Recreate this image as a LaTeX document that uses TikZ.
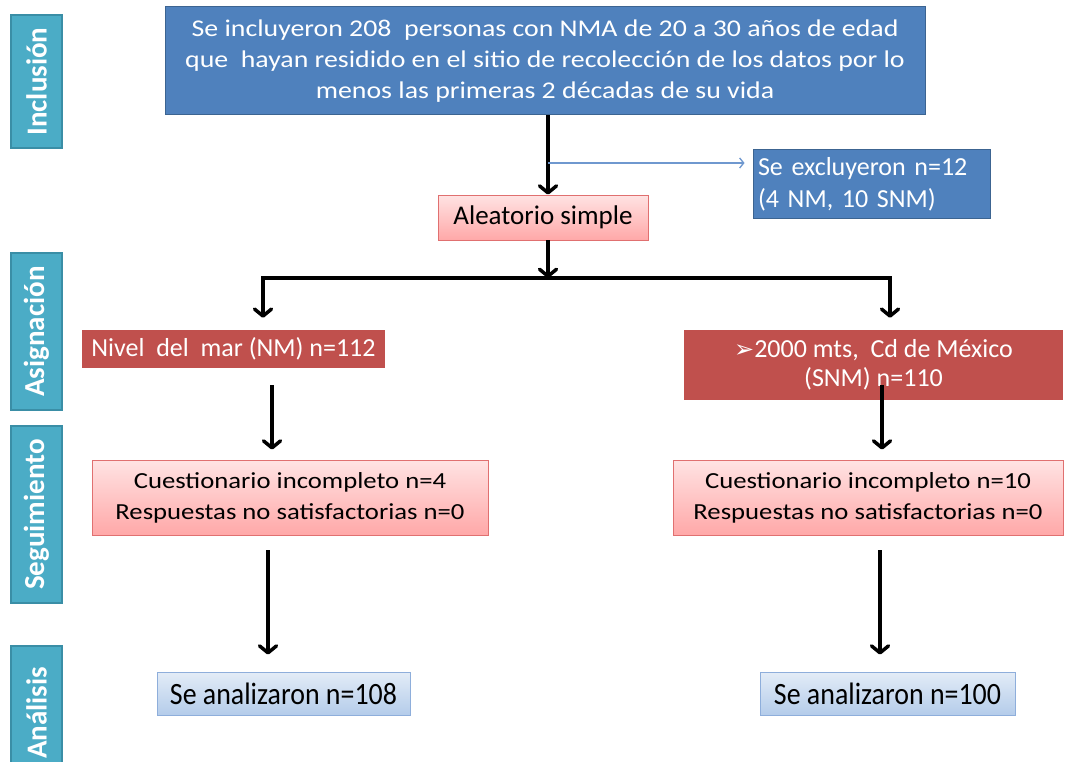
\documentclass[tikz,border=0pt]{standalone}
\usepackage{fontspec}
\setmainfont{Carlito}
\newfontfamily\wide[FakeStretch=1.16]{Carlito}
\newfontfamily\narrow[FakeStretch=0.9]{Carlito}
\newfontfamily\dejavu{DejaVu Sans}
\usetikzlibrary{arrows.meta,calc}
\definecolor{side}{HTML}{4BACC6}
\definecolor{sideb}{HTML}{3A8EA6}
\definecolor{topblue}{HTML}{4F81BD}
\definecolor{topblueb}{HTML}{3C6491}
\definecolor{darkred}{HTML}{C0504D}
\definecolor{pinktop}{HTML}{FFE3E3}
\definecolor{pinkbot}{HTML}{FFA8A8}
\definecolor{pinkb}{HTML}{E07070}
\definecolor{lbtop}{HTML}{E3ECF7}
\definecolor{lbbot}{HTML}{B4CCEA}
\definecolor{lbb}{HTML}{8EAEDB}
\definecolor{thinblue}{HTML}{6F98CF}
\tikzset{
  x=1pt,y=-1pt,
  sidebox/.style={fill=side,draw=sideb,line width=1.5pt,rotate=90,text=white,font=\bfseries\fontsize{29}{30}\selectfont,inner sep=0pt,minimum height=51},
  bluebox/.style={fill=topblue,draw=topblueb,line width=1pt,text=white,inner sep=0pt},
  redbox/.style={fill=darkred,text=white,inner sep=0pt,font=\fontsize{26}{29}\selectfont},
  pinkbox/.style={top color=pinktop,bottom color=pinkbot,draw=pinkb,line width=0.8pt,text=black,inner sep=0pt,font=\wide\fontsize{23}{31}\selectfont},
  lbbox/.style={top color=lbtop,bottom color=lbbot,draw=lbb,line width=0.8pt,text=black,inner sep=0pt,font=\narrow\fontsize{31}{31}\selectfont},
  arr/.style={line width=4pt,-{Straight Barb[length=7pt,width=17pt,line width=3.5pt,round]}},
  thinarr/.style={draw=thinblue,line width=1.3pt,-{Straight Barb[length=4pt,width=10pt,line width=1.3pt]}},
}
\begin{document}
\begin{tikzpicture}
\useasboundingbox[fill=white] (0,0) rectangle (1067,762);
\begin{scope}
\clip (0,0) rectangle (1067,762);
% side labels
\node[sidebox,minimum width=133] (sInc) at (36.5,81.5) {Inclusión};
\node[sidebox,minimum width=157] (sAsi) at (36.5,331.5) {Asignación};
\node[sidebox,minimum width=177] (sSeg) at (36.5,514.5) {Seguimiento};
\node[sidebox,minimum width=134] (sAna) at (36.5,713) {Análisis};
\end{scope}
% main boxes
\node[bluebox,minimum width=760,minimum height=108,align=center,font=\wide\fontsize{24}{31}\selectfont] (top) at (545,61)
 {Se incluyeron 208\ \ personas con NMA de 20 a 30 años de edad\\que\ \ hayan residido en el sitio de recolección de los datos por lo\\menos las primeras 2 décadas de su vida};
\node[bluebox,minimum width=237,minimum height=68,align=left,font=\fontsize{26}{32}\selectfont,text width=227] (excl) at (871.5,184)
 {Se excluyeron n=12\\(4 NM, 10 SNM)};
\node[pinkbox,minimum width=210,minimum height=45,font=\fontsize{27}{28}\selectfont] (aleat) at (543,217.5) {Aleatorio simple};
\node[redbox,minimum width=303,minimum height=38] (nivel) at (233.5,349) {Nivel\ \ del\ \ mar (NM) n=112};
\node[redbox,minimum width=379,minimum height=70,align=center] (snm) at (873.5,365)
 {{\dejavu\fontsize{24}{24}\selectfont ➢}2000 mts,\ \ Cd de México\\(SNM) n=110};
\node[pinkbox,minimum width=396,minimum height=75,align=center] (cq1) at (290,497.5)
 {Cuestionario incompleto n=4\\Respuestas no satisfactorias n=0};
\node[pinkbox,minimum width=390,minimum height=75,align=center] (cq2) at (868,497.5)
 {Cuestionario incompleto n=10\\Respuestas no satisfactorias n=0};
\node[lbbox,minimum width=253,minimum height=43] (an1) at (283.5,693.5) {Se analizaron n=108};
\node[lbbox,minimum width=255,minimum height=43] (an2) at (887.5,693.5) {Se analizaron n=100};
% helper coordinates
\coordinate (cx) at (548,0);
\coordinate (junc) at (548,278);
\coordinate (jl) at (263,278);
\coordinate (jr) at (890,278);
\coordinate (exy) at (0,163);
% connectors
\draw[arr] (top.south -| cx) -- (aleat.north -| cx);
\draw[thinarr,shorten >=8pt] (cx |- exy) -- (excl.west |- exy);
\draw[arr] (aleat.south -| cx) -- (junc);
\draw[line width=4pt,line cap=rect] (jl) -- (jr);
\draw[arr,shorten >=12pt] (jl) -- (nivel.north -| jl);
\draw[arr,shorten >=12pt] (jr) -- (snm.north -| jr);
\draw[arr,shorten <=17pt,shorten >=10pt] (nivel.south -| 272,0) -- (cq1.north -| 272,0);
\draw[arr,shorten <=-15pt,shorten >=10pt] (snm.south -| 882,0) -- (cq2.north -| 882,0);
\draw[arr,shorten <=15pt,shorten >=17pt] (cq1.south -| 268,0) -- (an1.north -| 268,0);
\draw[arr,shorten <=15pt,shorten >=17pt] (cq2.south -| 880,0) -- (an2.north -| 880,0);
\end{tikzpicture}
\end{document}
